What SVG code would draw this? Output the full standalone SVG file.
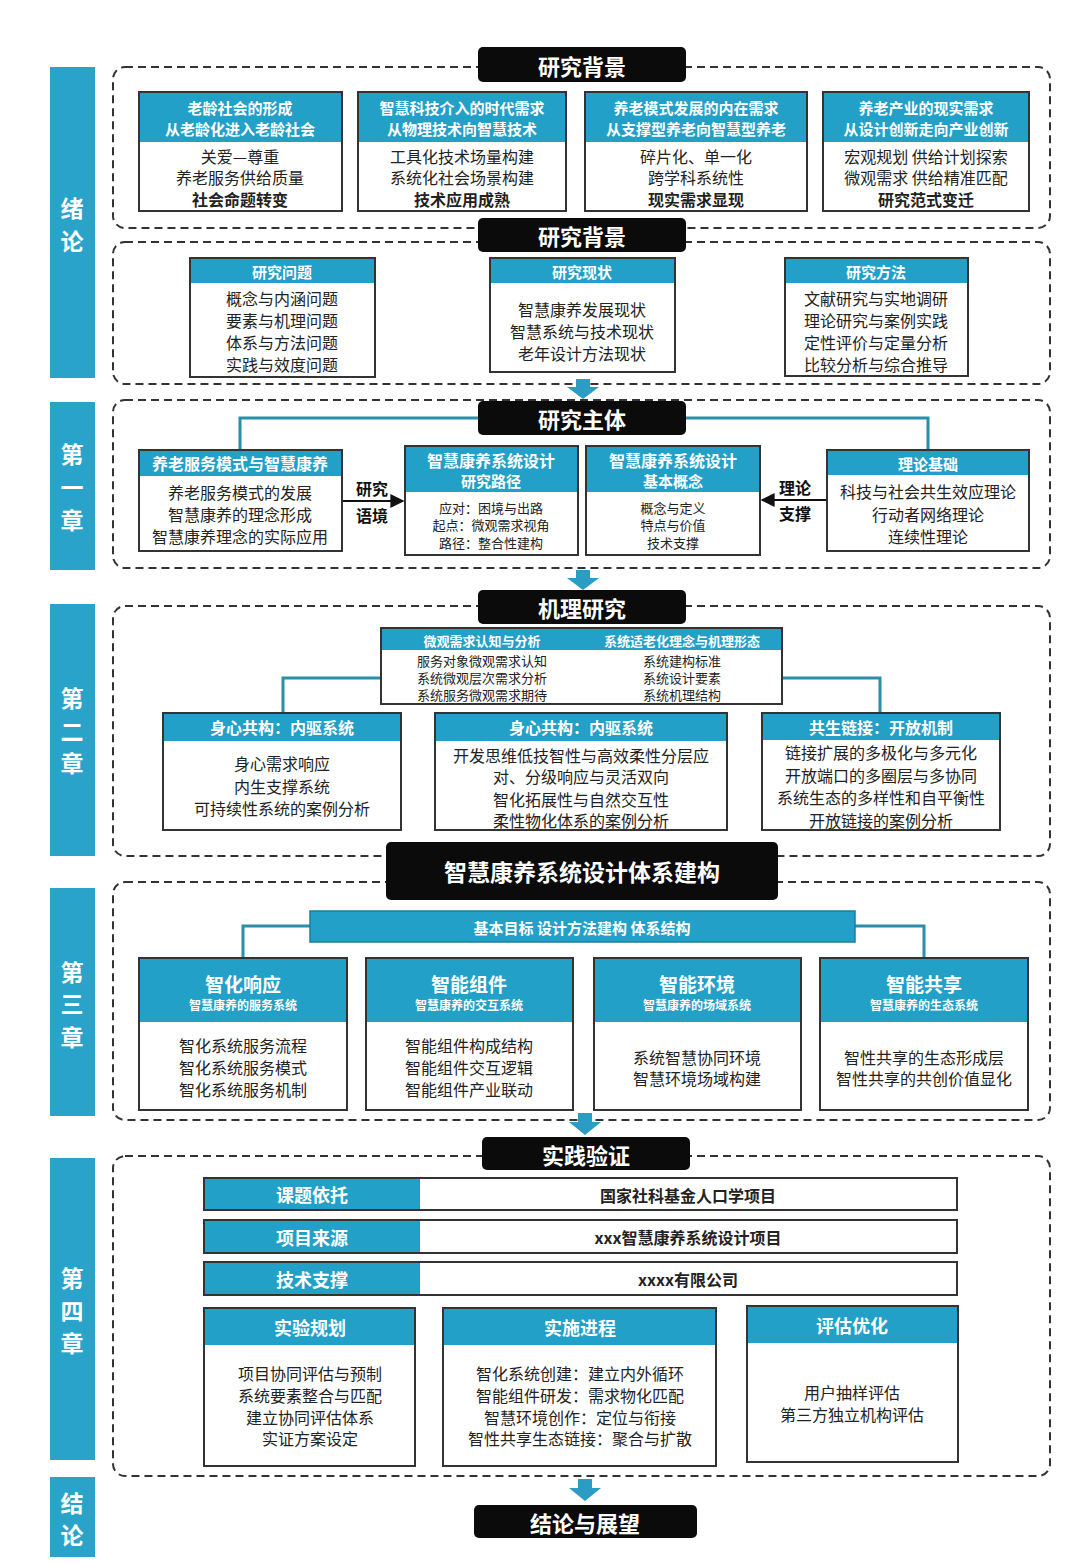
<svg xmlns="http://www.w3.org/2000/svg" width="1080" height="1563" viewBox="0 0 1080 1563">
<style>
text{font-family:"Noto Sans CJK SC","Noto Sans",sans-serif;dominant-baseline:central;text-anchor:middle;fill:#222}
.dash{fill:none;stroke:#333;stroke-width:2;stroke-dasharray:8 5}
.side{fill:#29a3c9}
.sidet{fill:#fff;font-size:23px;font-weight:700}
.ttl{fill:#0b0b0b}
.ttlt{fill:#fff;font-size:22px;font-weight:700}
.box{fill:#fff;stroke:#333;stroke-width:2}
.hd{fill:#22a0c8}
.hdt{fill:#fff;font-weight:700;font-size:15px}
.b16{font-size:16px}
.b13{font-size:13px}
.bb{font-weight:700}
.con{fill:none;stroke:#2a8fa8;stroke-width:3}
.arr{fill:#2b9cc4}
.lab{font-size:16px;font-weight:700;fill:#111}
</style>
<defs>
<marker id="ah" viewBox="0 0 10 10" refX="9" refY="5" markerWidth="7" markerHeight="7" orient="auto"><path d="M0 0L10 5L0 10z" fill="#111"/></marker>
</defs>
<rect width="1080" height="1563" fill="#fff"/>

<g id="sidebar">
<rect class="side" x="50" y="67" width="45" height="311"/>
<text class="sidet" x="72" y="207">绪</text><text class="sidet" x="72" y="240">论</text>
<rect class="side" x="50" y="402" width="45" height="168"/>
<text class="sidet" x="72" y="453">第</text><text class="sidet" x="72" y="486">一</text><text class="sidet" x="72" y="519">章</text>
<rect class="side" x="50" y="604" width="45" height="252"/>
<text class="sidet" x="72" y="697">第</text><text class="sidet" x="72" y="730">二</text><text class="sidet" x="72" y="762">章</text>
<rect class="side" x="50" y="888" width="45" height="228"/>
<text class="sidet" x="72" y="971">第</text><text class="sidet" x="72" y="1003">三</text><text class="sidet" x="72" y="1036">章</text>
<rect class="side" x="50" y="1158" width="45" height="302"/>
<text class="sidet" x="72" y="1277">第</text><text class="sidet" x="72" y="1310">四</text><text class="sidet" x="72" y="1342">章</text>
<rect class="side" x="50" y="1477" width="45" height="80"/>
<text class="sidet" x="72" y="1502">结</text><text class="sidet" x="72" y="1534">论</text>
</g>

<g id="frames">
<rect class="dash" x="113" y="67" width="937" height="161" rx="12"/>
<rect class="dash" x="113" y="242" width="937" height="142" rx="12"/>
<rect class="dash" x="113" y="400" width="937" height="168" rx="12"/>
<rect class="dash" x="113" y="606" width="937" height="250" rx="12"/>
<rect class="dash" x="113" y="882" width="937" height="238" rx="12"/>
<rect class="dash" x="113" y="1156" width="937" height="320" rx="12"/>
</g>

<g id="connectors">
<path class="con" d="M240 450V418H478"/>
<path class="con" d="M928 450V418H686"/>
<path class="con" d="M381 678H283V713"/>
<path class="con" d="M782 678H880V713"/>
<path class="con" d="M310 926H243V958"/>
<path class="con" d="M855 926H924V958"/>
<line x1="342" y1="501" x2="403" y2="501" stroke="#111" stroke-width="2" marker-end="url(#ah)"/>
<line x1="827" y1="500" x2="762" y2="500" stroke="#111" stroke-width="2" marker-end="url(#ah)"/>
<path class="arr" d="M576 379h14v8h9l-16 12l-16-12h9z"/>
<path class="arr" d="M576 570h14v8h9l-16 12l-16-12h9z"/>
<path class="arr" d="M578 1113h14v9h9l-16 13l-16-13h9z"/>
<path class="arr" d="M578 1479h14v9h9l-16 13l-16-13h9z"/>
<text class="lab" x="372" y="488">研究</text><text class="lab" x="372" y="515">语境</text>
<text class="lab" x="795" y="487">理论</text><text class="lab" x="795" y="513">支撑</text>
</g>

<g id="title1"><rect class="ttl" x="478" y="47" width="208" height="35" rx="5"/><text class="ttlt" x="582" y="65">研究背景</text></g>
<g id="title2"><rect class="ttl" x="478" y="218" width="208" height="34" rx="5"/><text class="ttlt" x="582" y="235">研究背景</text></g>
<g id="title3"><rect class="ttl" x="478" y="401" width="208" height="34" rx="5"/><text class="ttlt" x="582" y="418">研究主体</text></g>
<g id="title4"><rect class="ttl" x="478" y="590" width="208" height="34" rx="5"/><text class="ttlt" x="582" y="607">机理研究</text></g>
<g id="title5"><rect class="ttl" x="386" y="842" width="392" height="58" rx="5"/><text class="ttlt" x="582" y="871" style="font-size:23px">智慧康养系统设计体系建构</text></g>
<g id="title6"><rect class="ttl" x="482" y="1137" width="208" height="33" rx="5"/><text class="ttlt" x="586" y="1154">实践验证</text></g>
<g id="title7"><rect class="ttl" x="474" y="1505" width="223" height="33" rx="5"/><text class="ttlt" x="585" y="1522">结论与展望</text></g>

<g id="bg1">
<rect class="box" x="139" y="92" width="203" height="119"/><rect class="hd" x="140" y="93" width="201" height="49"/>
<text class="hdt" x="240" y="107">老龄社会的形成</text><text class="hdt" x="240" y="128">从老龄化进入老龄社会</text>
<text class="b16" x="240" y="156">关爱—尊重</text><text class="b16" x="240" y="177">养老服务供给质量</text><text class="b16 bb" x="240" y="199">社会命题转变</text>
</g>
<g id="bg2">
<rect class="box" x="358" y="92" width="208" height="119"/><rect class="hd" x="359" y="93" width="206" height="49"/>
<text class="hdt" x="462" y="107">智慧科技介入的时代需求</text><text class="hdt" x="462" y="128">从物理技术向智慧技术</text>
<text class="b16" x="462" y="156">工具化技术场量构建</text><text class="b16" x="462" y="177">系统化社会场景构建</text><text class="b16 bb" x="462" y="199">技术应用成熟</text>
</g>
<g id="bg3">
<rect class="box" x="585" y="92" width="222" height="119"/><rect class="hd" x="586" y="93" width="220" height="49"/>
<text class="hdt" x="696" y="107">养老模式发展的内在需求</text><text class="hdt" x="696" y="128">从支撑型养老向智慧型养老</text>
<text class="b16" x="696" y="156">碎片化、单一化</text><text class="b16" x="696" y="177">跨学科系统性</text><text class="b16 bb" x="696" y="199">现实需求显现</text>
</g>
<g id="bg4">
<rect class="box" x="823" y="92" width="206" height="119"/><rect class="hd" x="824" y="93" width="204" height="49"/>
<text class="hdt" x="926" y="107">养老产业的现实需求</text><text class="hdt" x="926" y="128">从设计创新走向产业创新</text>
<text class="b16" x="926" y="156">宏观规划 供给计划探索</text><text class="b16" x="926" y="177">微观需求 供给精准匹配</text><text class="b16 bb" x="926" y="199">研究范式变迁</text>
</g>

<g id="wenti">
<rect class="box" x="190" y="258" width="185" height="119"/><rect class="hd" x="191" y="259" width="183" height="24"/>
<text class="hdt" x="282" y="271">研究问题</text>
<text class="b16" x="282" y="298">概念与内涵问题</text><text class="b16" x="282" y="320">要素与机理问题</text><text class="b16" x="282" y="342">体系与方法问题</text><text class="b16" x="282" y="364">实践与效度问题</text>
</g>
<g id="xianzhuang">
<rect class="box" x="490" y="258" width="185" height="114"/><rect class="hd" x="491" y="259" width="183" height="24"/>
<text class="hdt" x="582" y="271">研究现状</text>
<text class="b16" x="582" y="309">智慧康养发展现状</text><text class="b16" x="582" y="331">智慧系统与技术现状</text><text class="b16" x="582" y="353">老年设计方法现状</text>
</g>
<g id="fangfa">
<rect class="box" x="785" y="258" width="183" height="118"/><rect class="hd" x="786" y="259" width="181" height="24"/>
<text class="hdt" x="876" y="271">研究方法</text>
<text class="b16" x="876" y="298">文献研究与实地调研</text><text class="b16" x="876" y="320">理论研究与案例实践</text><text class="b16" x="876" y="342">定性评价与定量分析</text><text class="b16" x="876" y="364">比较分析与综合推导</text>
</g>

<g id="yanglao">
<rect class="box" x="139" y="450" width="203" height="101"/><rect class="hd" x="140" y="451" width="201" height="25"/>
<text class="hdt" x="240" y="463" style="font-size:16px">养老服务模式与智慧康养</text>
<text class="b16" x="240" y="492">养老服务模式的发展</text><text class="b16" x="240" y="514">智慧康养的理念形成</text><text class="b16" x="240" y="536">智慧康养理念的实际应用</text>
</g>
<g id="lujing">
<rect class="box" x="405" y="446" width="173" height="109"/><rect class="hd" x="406" y="447" width="171" height="45"/>
<text class="hdt" x="491" y="460" style="font-size:16px">智慧康养系统设计</text><text class="hdt" x="491" y="480">研究路径</text>
<text class="b13" x="491" y="507">应对：困境与出路</text><text class="b13" x="491" y="524">起点：微观需求视角</text><text class="b13" x="491" y="542">路径：整合性建构</text>
</g>
<g id="gainian">
<rect class="box" x="586" y="446" width="174" height="109"/><rect class="hd" x="587" y="447" width="172" height="45"/>
<text class="hdt" x="673" y="460" style="font-size:16px">智慧康养系统设计</text><text class="hdt" x="673" y="480">基本概念</text>
<text class="b13" x="673" y="507">概念与定义</text><text class="b13" x="673" y="524">特点与价值</text><text class="b13" x="673" y="542">技术支撑</text>
</g>
<g id="lilun">
<rect class="box" x="827" y="450" width="202" height="101"/><rect class="hd" x="828" y="451" width="200" height="24"/>
<text class="hdt" x="928" y="463">理论基础</text>
<text class="b16" x="928" y="491">科技与社会共生效应理论</text><text class="b16" x="928" y="514">行动者网络理论</text><text class="b16" x="928" y="536">连续性理论</text>
</g>

<g id="jili">
<rect class="box" x="381" y="628" width="401" height="76"/><rect class="hd" x="382" y="629" width="399" height="21"/>
<text class="hdt" x="482" y="640" style="font-size:13px">微观需求认知与分析</text><text class="hdt" x="682" y="640" style="font-size:13px">系统适老化理念与机理形态</text>
<text class="b13" x="482" y="660">服务对象微观需求认知</text><text class="b13" x="482" y="677">系统微观层次需求分析</text><text class="b13" x="482" y="694">系统服务微观需求期待</text>
<text class="b13" x="682" y="660">系统建构标准</text><text class="b13" x="682" y="677">系统设计要素</text><text class="b13" x="682" y="694">系统机理结构</text>
</g>
<g id="neiqu1">
<rect class="box" x="163" y="713" width="238" height="117"/><rect class="hd" x="164" y="714" width="236" height="27"/>
<text class="hdt" x="282" y="727" style="font-size:16px">身心共构：内驱系统</text>
<text class="b16" x="282" y="763">身心需求响应</text><text class="b16" x="282" y="786">内生支撑系统</text><text class="b16" x="282" y="808">可持续性系统的案例分析</text>
</g>
<g id="neiqu2">
<rect class="box" x="435" y="713" width="292" height="117"/><rect class="hd" x="436" y="714" width="290" height="27"/>
<text class="hdt" x="581" y="727" style="font-size:16px">身心共构：内驱系统</text>
<text class="b16" x="581" y="755">开发思维低技智性与高效柔性分层应</text><text class="b16" x="581" y="776">对、分级响应与灵活双向</text><text class="b16" x="581" y="799">智化拓展性与自然交互性</text><text class="b16" x="581" y="820">柔性物化体系的案例分析</text>
</g>
<g id="kaifang">
<rect class="box" x="762" y="713" width="238" height="117"/><rect class="hd" x="763" y="714" width="236" height="26"/>
<text class="hdt" x="881" y="727" style="font-size:16px">共生链接：开放机制</text>
<text class="b16" x="881" y="752">链接扩展的多极化与多元化</text><text class="b16" x="881" y="775">开放端口的多圈层与多协同</text><text class="b16" x="881" y="797">系统生态的多样性和自平衡性</text><text class="b16" x="881" y="820">开放链接的案例分析</text>
</g>

<g id="banner">
<rect x="310" y="911" width="545" height="31" fill="#22a0c8" stroke="#1a7f9e" stroke-width="1.5"/>
<text class="hdt" x="582" y="927">基本目标  设计方法建构 体系结构</text>
</g>
<g id="xiangying">
<rect class="box" x="139" y="958" width="208" height="152"/><rect class="hd" x="140" y="959" width="206" height="63"/>
<text class="hdt" x="243" y="983" style="font-size:19px">智化响应</text><text class="hdt" x="243" y="1004" style="font-size:12px">智慧康养的服务系统</text>
<text class="b16" x="243" y="1045">智化系统服务流程</text><text class="b16" x="243" y="1067">智化系统服务模式</text><text class="b16" x="243" y="1089">智化系统服务机制</text>
</g>
<g id="zujian">
<rect class="box" x="366" y="958" width="207" height="152"/><rect class="hd" x="367" y="959" width="205" height="63"/>
<text class="hdt" x="469" y="983" style="font-size:19px">智能组件</text><text class="hdt" x="469" y="1004" style="font-size:12px">智慧康养的交互系统</text>
<text class="b16" x="469" y="1045">智能组件构成结构</text><text class="b16" x="469" y="1067">智能组件交互逻辑</text><text class="b16" x="469" y="1089">智能组件产业联动</text>
</g>
<g id="huanjing">
<rect class="box" x="594" y="958" width="207" height="152"/><rect class="hd" x="595" y="959" width="205" height="63"/>
<text class="hdt" x="697" y="983" style="font-size:19px">智能环境</text><text class="hdt" x="697" y="1004" style="font-size:12px">智慧康养的场域系统</text>
<text class="b16" x="697" y="1057">系统智慧协同环境</text><text class="b16" x="697" y="1078">智慧环境场域构建</text>
</g>
<g id="gongxiang">
<rect class="box" x="820" y="958" width="208" height="152"/><rect class="hd" x="821" y="959" width="206" height="63"/>
<text class="hdt" x="924" y="983" style="font-size:19px">智能共享</text><text class="hdt" x="924" y="1004" style="font-size:12px">智慧康养的生态系统</text>
<text class="b16" x="924" y="1057">智性共享的生态形成层</text><text class="b16" x="924" y="1078">智性共享的共创价值显化</text>
</g>

<g id="row1">
<rect class="box" x="204" y="1178" width="753" height="32"/><rect class="hd" x="205" y="1179" width="215" height="30"/>
<text class="hdt" x="312" y="1194" style="font-size:18px">课题依托</text><text class="b16 bb" x="688" y="1195">国家社科基金人口学项目</text>
</g>
<g id="row2">
<rect class="box" x="204" y="1220" width="753" height="33"/><rect class="hd" x="205" y="1221" width="215" height="31"/>
<text class="hdt" x="312" y="1237" style="font-size:18px">项目来源</text><text class="b16 bb" x="688" y="1237">xxx智慧康养系统设计项目</text>
</g>
<g id="row3">
<rect class="box" x="204" y="1262" width="753" height="33"/><rect class="hd" x="205" y="1263" width="215" height="31"/>
<text class="hdt" x="312" y="1279" style="font-size:18px">技术支撑</text><text class="b16 bb" x="688" y="1279">xxxx有限公司</text>
</g>
<g id="guihua">
<rect class="box" x="204" y="1308" width="211" height="158"/><rect class="hd" x="205" y="1309" width="209" height="36"/>
<text class="hdt" x="310" y="1327" style="font-size:18px">实验规划</text>
<text class="b16" x="310" y="1373">项目协同评估与预制</text><text class="b16" x="310" y="1395">系统要素整合与匹配</text><text class="b16" x="310" y="1417">建立协同评估体系</text><text class="b16" x="310" y="1438">实证方案设定</text>
</g>
<g id="jincheng">
<rect class="box" x="443" y="1308" width="273" height="158"/><rect class="hd" x="444" y="1309" width="271" height="36"/>
<text class="hdt" x="580" y="1327" style="font-size:18px">实施进程</text>
<text class="b16" x="580" y="1373">智化系统创建：建立内外循环</text><text class="b16" x="580" y="1395">智能组件研发：需求物化匹配</text><text class="b16" x="580" y="1417">智慧环境创作：定位与衔接</text><text class="b16" x="580" y="1438">智性共享生态链接：聚合与扩散</text>
</g>
<g id="youhua">
<rect class="box" x="747" y="1306" width="211" height="156"/><rect class="hd" x="748" y="1307" width="209" height="36"/>
<text class="hdt" x="852" y="1325" style="font-size:18px">评估优化</text>
<text class="b16" x="852" y="1392">用户抽样评估</text><text class="b16" x="852" y="1414">第三方独立机构评估</text>
</g>
</svg>
